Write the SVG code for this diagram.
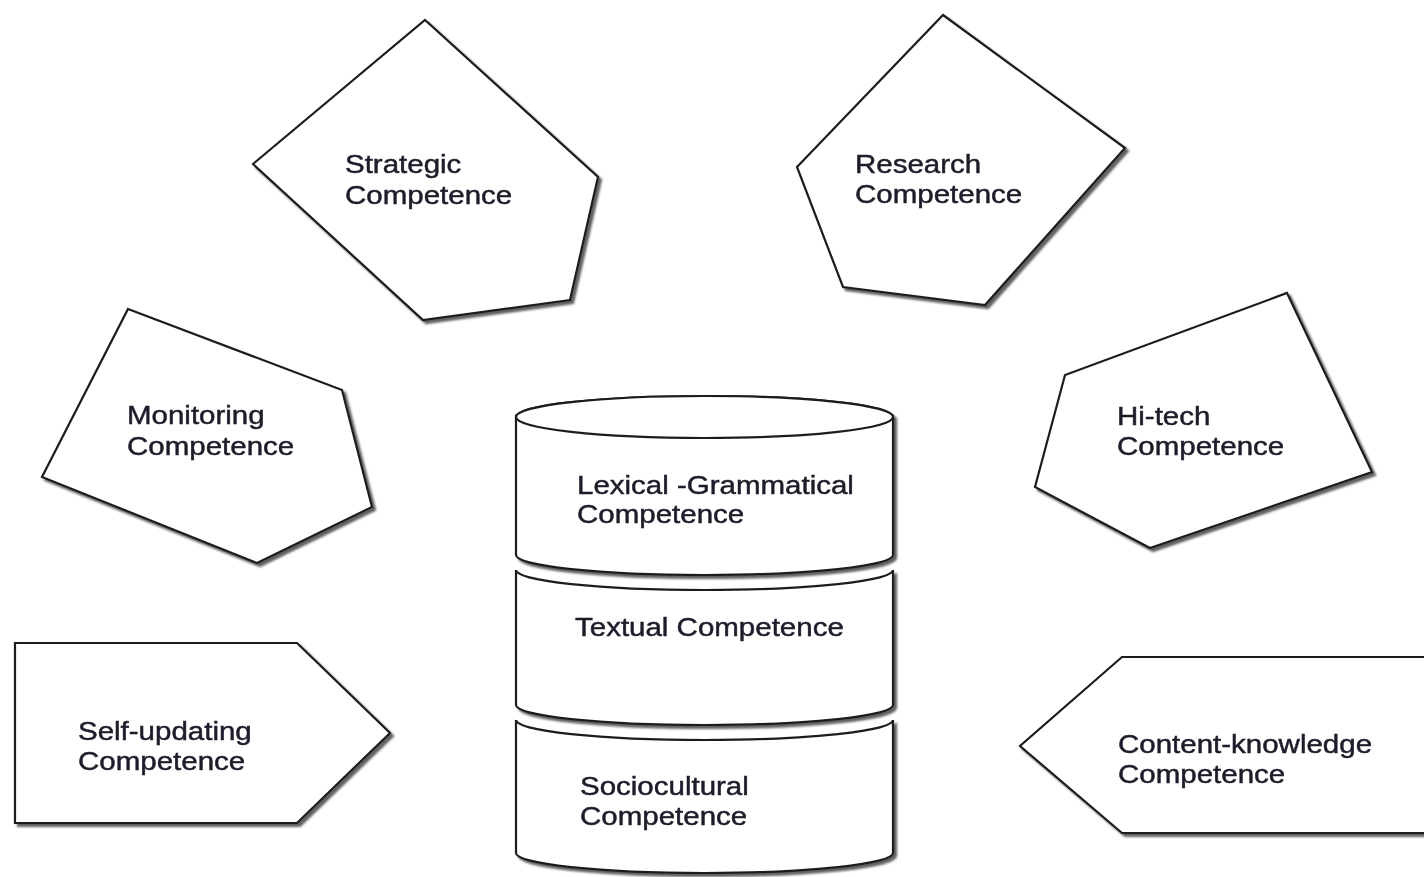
<svg xmlns="http://www.w3.org/2000/svg" width="1424" height="877" viewBox="0 0 1424 877">
  <defs>
    <filter id="shadow" x="-10%" y="-10%" width="125%" height="125%">
      <feDropShadow dx="3" dy="3" stdDeviation="1.2" flood-color="#444" flood-opacity="0.85"/>
    </filter>
  </defs>
  <style>
    .shape { fill: #fff; stroke: #1e1e1e; stroke-width: 2.2; stroke-linejoin: miter; }
    .label { font-family: "Liberation Sans", Arial, sans-serif; font-size: 25px; fill: #1c1c2a; stroke: #1c1c2a; stroke-width: 0.45; }
  </style>
  <rect width="1424" height="877" fill="#fff"/>

  <!-- outer competences; labels are widened horizontally -->
  <g id="strategic" filter="url(#shadow)">
    <polygon class="shape" points="425,20 598,177 570,300 423,320 253,164"/>
    <text class="label" transform="translate(345,173) scale(1.18,1)">Strategic</text>
    <text class="label" transform="translate(345,204) scale(1.18,1)">Competence</text>
  </g>

  <g id="research" filter="url(#shadow)">
    <polygon class="shape" points="943,15 1125,148 985,305 843,287 797,167"/>
    <text class="label" transform="translate(855,173) scale(1.18,1)">Research</text>
    <text class="label" transform="translate(855,203) scale(1.18,1)">Competence</text>
  </g>

  <g id="monitoring" filter="url(#shadow)">
    <polygon class="shape" points="128,309 342,390 372,507 257,563 42,477"/>
    <text class="label" transform="translate(127,424) scale(1.18,1)">Monitoring</text>
    <text class="label" transform="translate(127,455) scale(1.18,1)">Competence</text>
  </g>

  <g id="hitech" filter="url(#shadow)">
    <polygon class="shape" points="1287,293 1372,472 1150,548 1035,487 1065,375"/>
    <text class="label" transform="translate(1117,425) scale(1.18,1)">Hi-tech</text>
    <text class="label" transform="translate(1117,455) scale(1.18,1)">Competence</text>
  </g>

  <g id="self-updating" filter="url(#shadow)">
    <polygon class="shape" points="15,643 297,643 390,733 297,823 15,823"/>
    <text class="label" transform="translate(78,740) scale(1.18,1)">Self-updating</text>
    <text class="label" transform="translate(78,770) scale(1.18,1)">Competence</text>
  </g>

  <g id="content-knowledge" filter="url(#shadow)">
    <polygon class="shape" points="1122,657 1450,657 1450,833 1122,833 1020,746"/>
    <text class="label" transform="translate(1118,753) scale(1.18,1)">Content-knowledge</text>
    <text class="label" transform="translate(1118,783) scale(1.18,1)">Competence</text>
  </g>

  <!-- central stack, drawn bottom layer first so upper layers overlap -->
  <g id="sociocultural" filter="url(#shadow)">
    <path class="shape" d="M516,720 A188.5,20 0 0 0 893,720 L893,853 A188.5,20 0 0 1 516,853 Z"/>
    <text class="label" transform="translate(580,795) scale(1.18,1)">Sociocultural</text>
    <text class="label" transform="translate(580,825) scale(1.18,1)">Competence</text>
  </g>

  <g id="textual" filter="url(#shadow)">
    <path class="shape" d="M516,570 A188.5,20 0 0 0 893,570 L893,705 A188.5,20 0 0 1 516,705 Z"/>
    <text class="label" transform="translate(575,636) scale(1.18,1)">Textual Competence</text>
  </g>

  <g id="lexical-grammatical" filter="url(#shadow)">
    <path class="shape" d="M516,417 A188.5,21 0 0 1 893,417 L893,555 A188.5,20 0 0 1 516,555 Z"/>
    <ellipse class="shape" cx="704.5" cy="417" rx="188.5" ry="21"/>
    <text class="label" transform="translate(577,494) scale(1.18,1)">Lexical -Grammatical</text>
    <text class="label" transform="translate(577,523) scale(1.18,1)">Competence</text>
  </g>

  <g id="connectors"/>
</svg>
